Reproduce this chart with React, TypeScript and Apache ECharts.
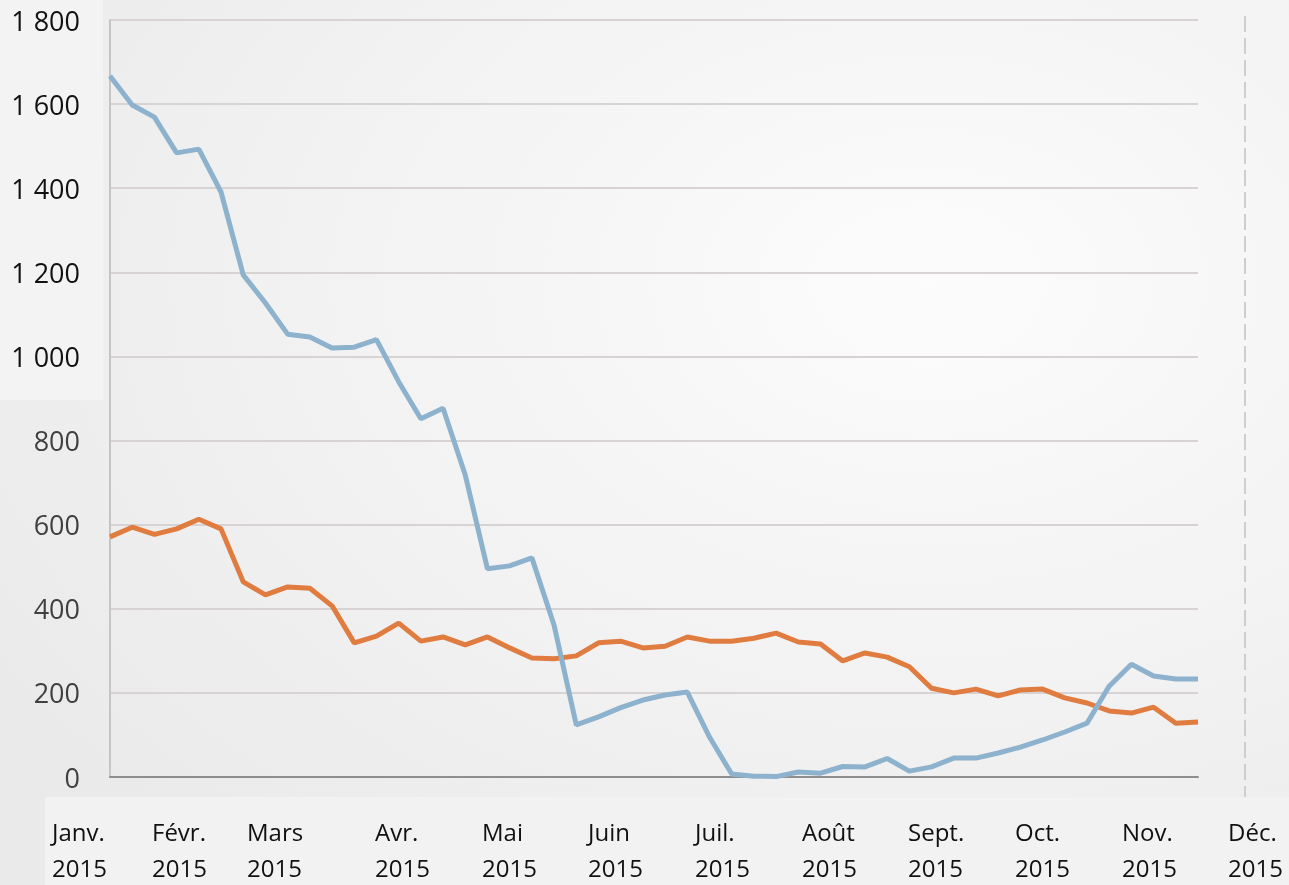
import React, { useEffect, useRef } from "react";
import * as echarts from "echarts";

const blueValues = [
  1667, 1598, 1569, 1484, 1493, 1391, 1194, 1127, 1053, 1046,
  1020, 1022, 1040, 940, 852, 877, 718, 495, 502, 521,
  361, 124, 143, 165, 183, 195, 202, 95, 7, 2,
  1, 12, 9, 25, 24, 44, 14, 24, 45, 45,
  57, 71, 88, 107, 128, 216, 268, 240, 233, 233,
];

const orangeValues = [
  571, 594, 577, 590, 613, 590, 464, 433, 452, 449,
  407, 319, 335, 366, 323, 333, 314, 333, 307, 283,
  281, 288, 319, 323, 307, 311, 333, 323, 323, 330,
  342, 321, 316, 276, 295, 285, 262, 211, 200, 209,
  193, 207, 209, 188, 176, 157, 152, 166, 128, 131,
];

const weeks = blueValues.map((_, i) => `S${i + 1}`);

const monthLabels = [
  "Janv.", "Févr.", "Mars", "Avr.", "Mai", "Juin",
  "Juil.", "Août", "Sept.", "Oct.", "Nov.", "Déc.",
];
const yearLabel = "2015";
const monthLabelX = [52, 152, 247, 375, 482, 588, 695, 802, 908, 1015, 1122, 1228];

const yMin = 0;
const yMax = 1800;
const yStep = 200;

const FONT = "'Open Sans', 'DejaVu Sans', sans-serif";

export default function App() {
  const ref = useRef<HTMLDivElement>(null);

  useEffect(() => {
    if (!ref.current) return;
    const chart = echarts.init(ref.current, null, { renderer: "svg" });

    const labelStyle = {
      fontFamily: FONT,
      fontSize: 24,
      lineHeight: 24,
      fill: "#111111",
      align: "left",
      verticalAlign: "middle",
    };
    const monthTexts: any[] = [];
    monthLabels.forEach((m, i) => {
      monthTexts.push({
        type: "text",
        x: monthLabelX[i],
        y: 831,
        z: 10,
        style: { ...labelStyle, text: m },
      });
      monthTexts.push({
        type: "text",
        x: monthLabelX[i],
        y: 867,
        z: 10,
        style: { ...labelStyle, text: yearLabel },
      });
    });

    chart.setOption({
      animation: false,
      backgroundColor: {
        type: "radial",
        x: 0.72,
        y: 0.32,
        r: 0.85,
        colorStops: [
          { offset: 0, color: "#FCFCFC" },
          { offset: 1, color: "#EAEAEA" },
        ],
      },
      grid: { left: 110, right: 91, top: 20, bottom: 108, containLabel: false },
      xAxis: {
        type: "category",
        data: weeks,
        boundaryGap: false,
        axisLabel: { show: false },
        axisTick: { show: false },
        axisLine: { show: true, lineStyle: { color: "#8E8E8E", width: 2 } },
        splitLine: { show: false },
      },
      yAxis: {
        type: "value",
        min: yMin,
        max: yMax,
        interval: yStep,
        axisLine: { show: true, lineStyle: { color: "#C8C4C4", width: 2 } },
        axisTick: { show: false },
        splitLine: { show: true, lineStyle: { color: "#D8D3D3", width: 2 } },
        axisLabel: {
          margin: 30,
          fontFamily: FONT,
          fontSize: 27,
          color: (v: any) => (Number(v) >= 1000 ? "#111111" : "#404040"),
          formatter: (v: number) =>
            v >= 1000 ? `${Math.floor(v / 1000)} ${String(v % 1000).padStart(3, "0")}` : `${v}`,
        },
      },
      series: [
        {
          type: "line",
          name: "orange",
          data: orangeValues,
          symbol: "none",
          lineStyle: { color: "#E07C40", width: 5 },
          itemStyle: { color: "#E07C40" },
        },
        {
          type: "line",
          name: "blue",
          data: blueValues,
          symbol: "none",
          lineStyle: { color: "#8DB2CD", width: 5 },
          itemStyle: { color: "#8DB2CD" },
        },
      ],
      graphic: [
        {
          type: "rect",
          z: -10,
          shape: { x: 0, y: 0, width: 103, height: 400 },
          style: { fill: "#F3F3F3" },
        },
        {
          type: "rect",
          z: -10,
          shape: { x: 45, y: 797, width: 1244, height: 88 },
          style: { fill: "#F2F2F2" },
        },
        {
          type: "line",
          z: 5,
          shape: { x1: 1245, y1: 16, x2: 1245, y2: 797 },
          style: { stroke: "#D2CDCD", lineWidth: 2, lineDash: [16, 6] },
        },
        ...monthTexts,
      ],
    });

    return () => chart.dispose();
  }, []);

  return (
    <div
      ref={ref}
      style={{ position: "fixed", left: 0, top: 0, width: 1289, height: 885 }}
    />
  );
}
